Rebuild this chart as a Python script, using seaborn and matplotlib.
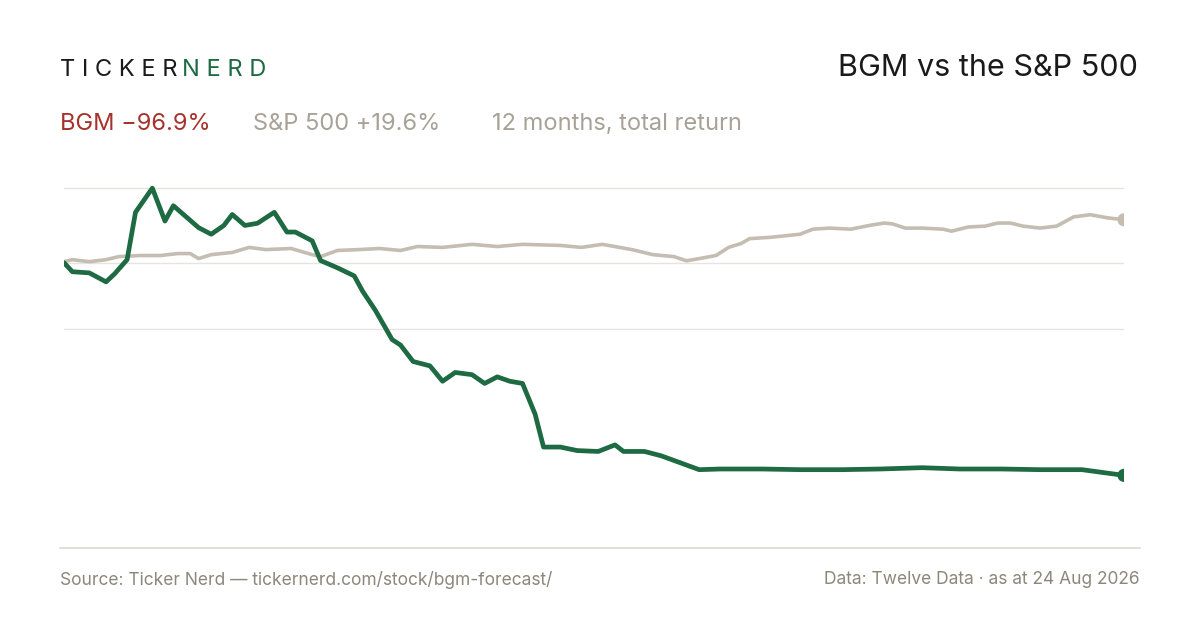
import matplotlib.pyplot as plt
import seaborn as sns
import pandas as pd

# trading day index and total return (%)
bgm_days = [0, 2, 6, 10, 12, 15, 17, 21, 24, 26, 29, 32, 35, 38, 40, 43, 46, 50, 53, 55,
            59, 61, 65, 69, 71, 74, 78, 80, 83, 87, 90, 93, 97, 100, 103, 106, 109, 112, 114, 118,
            122, 127, 131, 133, 138, 142, 147, 151, 156, 166, 175, 185, 194, 204, 213, 223, 232, 242, 252]
bgm_ret = [0, -4.1, -4.6, -8.7, -5.1, 1.4, 23, 34, 19, 26, 21, 16, 13, 17, 22, 17, 18, 23, 14, 14,
           10, 1, -2.3, -6, -13, -21.6, -35, -37.5, -45, -47, -54, -50, -51, -55, -52, -54, -55, -69, -84, -84,
           -85.6, -86, -83, -86, -86, -88, -91.5, -94.3, -94, -94, -94.3, -94.3, -94, -93.4, -94, -94, -94.3, -94.3, -96.9]

spx_days = [0, 2, 6, 10, 13, 18, 23, 27, 30, 32, 35, 40, 44, 48, 54, 59, 61, 65, 70, 75,
            80, 84, 90, 97, 103, 109, 118, 123, 128, 135, 140, 145, 148, 151, 155, 158, 161, 163, 168, 175,
            178, 182, 187, 192, 195, 197, 200, 204, 209, 211, 215, 219, 222, 225, 228, 232, 236, 240, 244, 248, 252]
spx_ret = [0.5, 1.4, 0.5, 1.4, 2.8, 3.3, 3.3, 4.2, 4.2, 1.9, 3.7, 4.7, 7, 6, 6.5, 3.7, 2.8, 5.6, 6, 6.5,
           5.6, 7.4, 7, 8.4, 7.4, 8.4, 7.9, 7, 8.4, 6, 3.7, 2.8, 0.9, 1.9, 3.3, 7, 8.8, 11, 11.6, 13,
           15.3, 15.8, 15.3, 17.2, 18.1, 17.7, 15.8, 15.8, 15.3, 14.4, 16.3, 16.7, 18.1, 18.1, 16.7, 15.8, 16.7, 20.9, 21.9, 20.5, 19.6]

grid_levels = [34, 0, -30]

GREEN = "#1d6a43"
SAND = "#c5bdb2"
RED = "#a6322b"
MUTED = "#8d877b"

sns.set_style("white")
plt.rcParams['font.family'] = ['Inter', 'DejaVu Sans']

fig = plt.figure(figsize=(12, 6.3), dpi=100)
ax = fig.add_axes([64 / 1200, 1 - 530 / 630, 1060 / 1200, 355 / 630])

for g in grid_levels:
    ax.axhline(g, color="#e7e4df", lw=1, zorder=0)

spx = pd.DataFrame({"day": spx_days, "ret": spx_ret})
bgm = pd.DataFrame({"day": bgm_days, "ret": bgm_ret})
sns.lineplot(data=spx, x="day", y="ret", color=SAND, lw=2.6, ax=ax)
sns.lineplot(data=bgm, x="day", y="ret", color=GREEN, lw=3.4, ax=ax)
sns.scatterplot(data=spx.tail(1), x="day", y="ret", color=SAND, s=90, edgecolor="none", ax=ax, zorder=5)
sns.scatterplot(data=bgm.tail(1), x="day", y="ret", color=GREEN, s=90, edgecolor="none", ax=ax, zorder=5)

ax.set_xlim(0, 252)
ax.set_ylim(-121.8, 40)
ax.set(xticks=[], yticks=[], xlabel="", ylabel="")
sns.despine(ax=ax, left=True, bottom=True)

# header
t = fig.text(60 / 1200, 1 - 70 / 630, "T I C K E R ", fontsize=17, color="#1a1a1a", va="center")
fig.canvas.draw()
bb = t.get_window_extent()
fig.text(bb.x1 / 1200 - 0.002, 1 - 70 / 630, "N E R D", fontsize=17, color=GREEN, va="center")
fig.text(1138 / 1200, 1 - 68 / 630, "BGM vs the S&P 500", fontsize=22, color="#1a1a1a",
         ha="right", va="center")

s1 = fig.text(60 / 1200, 1 - 124 / 630, "BGM \u221296.9%", fontsize=17, color=RED, va="center")
fig.text(253 / 1200, 1 - 124 / 630, "S&P 500 +19.6%", fontsize=17, color="#a8a197", va="center")
fig.text(492 / 1200, 1 - 124 / 630, "12 months, total return", fontsize=17, color="#a8a197", va="center")

# footer
fig.add_artist(plt.Line2D([60 / 1200, 1140 / 1200], [1 - 548 / 630] * 2, color="#dcd8d1", lw=1.2))
fig.text(60 / 1200, 1 - 580 / 630, "Source: Ticker Nerd \u2014 tickernerd.com/stock/bgm-forecast/",
         fontsize=12.5, color=MUTED, va="center")
fig.text(1140 / 1200, 1 - 580 / 630, "Data: Twelve Data \u00b7 as at 24 Aug 2026",
         fontsize=12.5, color=MUTED, va="center", ha="right")

fig.savefig("out.png", dpi=100, facecolor="white")
